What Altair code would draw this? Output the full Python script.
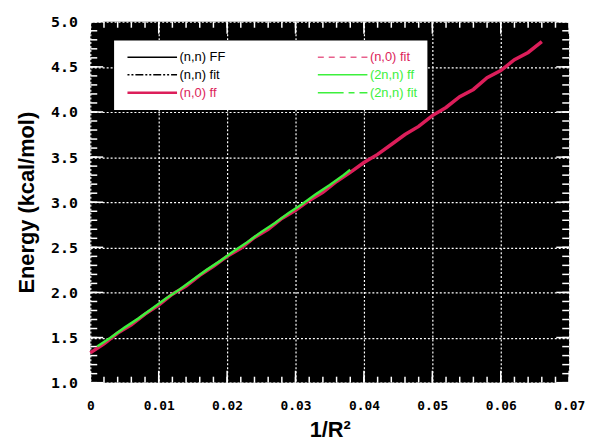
import altair as alt
import pandas as pd

# ---- data ----
x_n0 = [0.000, 0.002, 0.004, 0.006, 0.008, 0.010, 0.012, 0.014, 0.016, 0.018,
        0.020, 0.022, 0.024, 0.026, 0.028, 0.030, 0.032, 0.034, 0.036, 0.038,
        0.040, 0.042, 0.044, 0.046, 0.048, 0.050, 0.052, 0.054, 0.056, 0.058,
        0.060, 0.062, 0.064, 0.066]
e_n0 = [1.33, 1.43, 1.55, 1.64, 1.76, 1.86, 1.98, 2.07, 2.19, 2.29,
        2.40, 2.49, 2.61, 2.70, 2.82, 2.91, 3.02, 3.11, 3.23, 3.33,
        3.44, 3.53, 3.64, 3.75, 3.84, 3.96, 4.05, 4.17, 4.25, 4.38,
        4.46, 4.58, 4.66, 4.78]

x_2nn = [0.001, 0.003, 0.005, 0.007, 0.009, 0.011, 0.013, 0.015, 0.017, 0.019,
         0.021, 0.023, 0.025, 0.027, 0.029, 0.031, 0.033, 0.035, 0.037, 0.038]
e_2nn = [1.40, 1.50, 1.61, 1.71, 1.82, 1.93, 2.03, 2.14, 2.25, 2.35,
         2.46, 2.56, 2.67, 2.77, 2.88, 2.98, 3.09, 3.19, 3.30, 3.36]

series_names = ["(n,n) FF", "(n,n) fit", "(n,0) ff", "(n,0) fit", "(2n,n) ff", "(2n,n) fit"]
series_colors = ["#000000", "#000000", "#dc1e5a", "#e8608c", "#3cf03c", "#3cf03c"]

x_major = [0, 0.01, 0.02, 0.03, 0.04, 0.05, 0.06, 0.07]
y_major = [1.0, 1.5, 2.0, 2.5, 3.0, 3.5, 4.0, 4.5, 5.0]
x_minor = [i * 0.002 for i in range(36)]
y_minor = [1.0 + i * 0.1 for i in range(41)]

W, H = 483, 364
CRIMSON = "#dc1e5a"
GREEN = "#3cf03c"

df = pd.concat([
    pd.DataFrame({"x": x_n0, "e": e_n0, "series": "(n,0) ff", "ord": 0}),
    pd.DataFrame({"x": x_2nn, "e": e_2nn, "series": "(2n,n) ff", "ord": 1}),
])

xscale = alt.Scale(domain=[0, 0.07], nice=False, zero=False)
yscale = alt.Scale(domain=[1.0, 5.0], nice=False, zero=False)

label_color_expr = (
    "indexof(datum.value, '(2n') === 0 ? '%s' : "
    "(indexof(datum.value, '(n,0)') === 0 ? '%s' : 'black')" % (GREEN, CRIMSON)
)
dash_expr = (
    "datum.value === '(n,n) fit' ? [2,2,2,2,8,2] : "
    "(datum.value === '(n,0) fit' ? [6,5] : "
    "(datum.value === '(2n,n) fit' ? [26,5,6,5] : [1,0]))"
)
width_expr = "datum.value === '(n,0) ff' ? 2.5 : 1.5"

legend = alt.Legend(
    title=None,
    orient="none",
    legendX=24,
    legendY=19,
    columns=2,
    columnPadding=89,
    rowPadding=4,
    padding=10,
    fillColor="white",
    symbolType="stroke",
    symbolSize=2500,
    symbolOffset=22,
    symbolStrokeWidth=alt.ExprRef(width_expr),
    symbolDash=alt.ExprRef(dash_expr),
    labelColor=alt.ExprRef(label_color_expr),
    labelFont="Liberation Sans",
    labelFontSize=13,
    labelOffset=21,
)

lines = alt.Chart(df).mark_line().encode(
    x=alt.X("x:Q", scale=xscale, title="1/R²",
            axis=alt.Axis(values=x_major, format="~g", grid=True, gridColor="white",
                          gridDash=[2, 2], gridWidth=1.2, gridOpacity=1, ticks=False,
                          domain=False, labelFont="DejaVu Sans Mono", labelFontWeight="bold",
                          labelFontSize=13, labelPadding=17, labelColor="black",
                          titleFont="Liberation Sans", titleFontSize=22, titleFontWeight="bold",
                          titlePadding=7, titleColor="black", labelFlush=False)),
    y=alt.Y("e:Q", scale=yscale, title="Energy (kcal/mol)",
            axis=alt.Axis(values=y_major, format=".1f", grid=True, gridColor="white",
                          gridDash=[2, 2], gridWidth=1.2, gridOpacity=1, ticks=False,
                          domain=False, labelFont="DejaVu Sans Mono", labelFontWeight="bold",
                          labelFontSize=15, labelPadding=13, labelColor="black",
                          titleFont="Liberation Sans", titleFontSize=22, titleFontWeight="bold",
                          titlePadding=12, titleColor="black", labelFlush=False)),
    color=alt.Color("series:N", scale=alt.Scale(domain=series_names, range=series_colors),
                    legend=legend),
    strokeWidth=alt.StrokeWidth("ord:Q", scale=alt.Scale(domain=[0, 1], range=[3.5, 2.5]),
                                legend=None),
    detail="series:N",
    order=alt.Order("ord:Q"),
)

xmaj = pd.DataFrame({"t": x_major})
xmin = pd.DataFrame({"t": x_minor})
ymaj = pd.DataFrame({"t": y_major})
ymin = pd.DataFrame({"t": y_minor})


def xticks(data, length):
    bottom = alt.Chart(data).mark_rule(color="white", strokeWidth=1.5).encode(
        x=alt.X("t:Q", scale=xscale), y=alt.value(H), y2=alt.value(H - length))
    top = alt.Chart(data).mark_rule(color="white", strokeWidth=1.5).encode(
        x=alt.X("t:Q", scale=xscale), y=alt.value(0), y2=alt.value(length))
    return bottom + top


def yticks(data, length):
    left = alt.Chart(data).mark_rule(color="white", strokeWidth=1.5).encode(
        y=alt.Y("t:Q", scale=yscale), x=alt.value(0), x2=alt.value(length))
    right = alt.Chart(data).mark_rule(color="white", strokeWidth=1.5).encode(
        y=alt.Y("t:Q", scale=yscale), x=alt.value(W), x2=alt.value(W - length))
    return left + right


chart = alt.layer(
    xticks(xmin, 6), xticks(xmaj, 12), yticks(ymin, 7), yticks(ymaj, 13), lines
).properties(
    width=W, height=H,
    padding={"left": 7, "top": 5, "right": 5, "bottom": 5},
    background="white",
).configure_view(fill="black", stroke=None)

chart.save("out.html", embed_options={"renderer": "svg", "actions": False})
